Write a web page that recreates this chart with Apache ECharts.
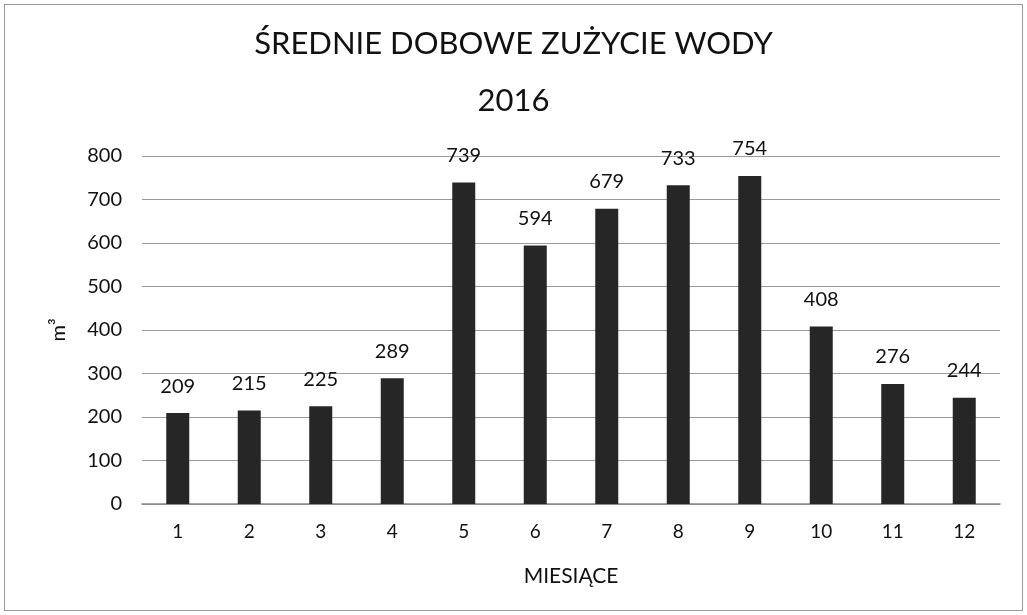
<!DOCTYPE html>
<html><head><meta charset="utf-8">
<script src="https://cdn.jsdelivr.net/npm/echarts@6/dist/echarts.min.js"></script>
<style>html,body{margin:0;padding:0;background:#fff}#c{position:absolute;left:4px;top:4px;width:1019px;height:607px;border:1px solid #9a9a9a;box-sizing:border-box}</style>
</head><body><div id="c"></div>
<script>
const months = ['1','2','3','4','5','6','7','8','9','10','11','12'];
const usage = [209, 215, 225, 289, 739, 594, 679, 733, 754, 408, 276, 244];
const titleLines = ['ŚREDNIE DOBOWE ZUŻYCIE WODY', '2016'];
const yName = 'm³';
const xName = 'MIESIĄCE';
const F = 'Lato, "Noto Sans", sans-serif';
const chart = echarts.init(document.getElementById('c'));
chart.setOption({
  animation: false,
  title: {
    text: titleLines.join('\n'),
    left: 'center', top: 5,
    textStyle: {fontFamily: F, fontSize: 31, fontWeight: 'normal', color: '#111', lineHeight: 57}
  },
  grid: {left: 137, right: 22, top: 151, bottom: 106},
  xAxis: {
    type: 'category', data: months,
    name: xName, nameLocation: 'middle', nameGap: 62,
    nameTextStyle: {fontFamily: F, fontSize: 21, color: '#111'},
    axisLine: {lineStyle: {color: '#888', width: 1.5}},
    axisTick: {show: false},
    axisLabel: {fontFamily: F, fontSize: 19, color: '#111', margin: 18}
  },
  yAxis: {
    type: 'value', min: 0, max: 800, interval: 100,
    name: yName, nameLocation: 'middle', nameGap: 73, nameRotate: 90,
    nameTextStyle: {fontFamily: F, fontSize: 20, color: '#111'},
    axisLine: {show: false}, axisTick: {show: false},
    axisLabel: {fontFamily: F, fontSize: 20, color: '#111', margin: 20},
    splitLine: {lineStyle: {color: '#9a9a9a', width: 1.2}}
  },
  series: [{
    type: 'bar', data: usage, barWidth: 23,
    itemStyle: {color: '#262626'},
    label: {show: true, position: 'top', distance: 17, fontFamily: F, fontSize: 20, color: '#111'}
  }]
});
</script></body></html>
